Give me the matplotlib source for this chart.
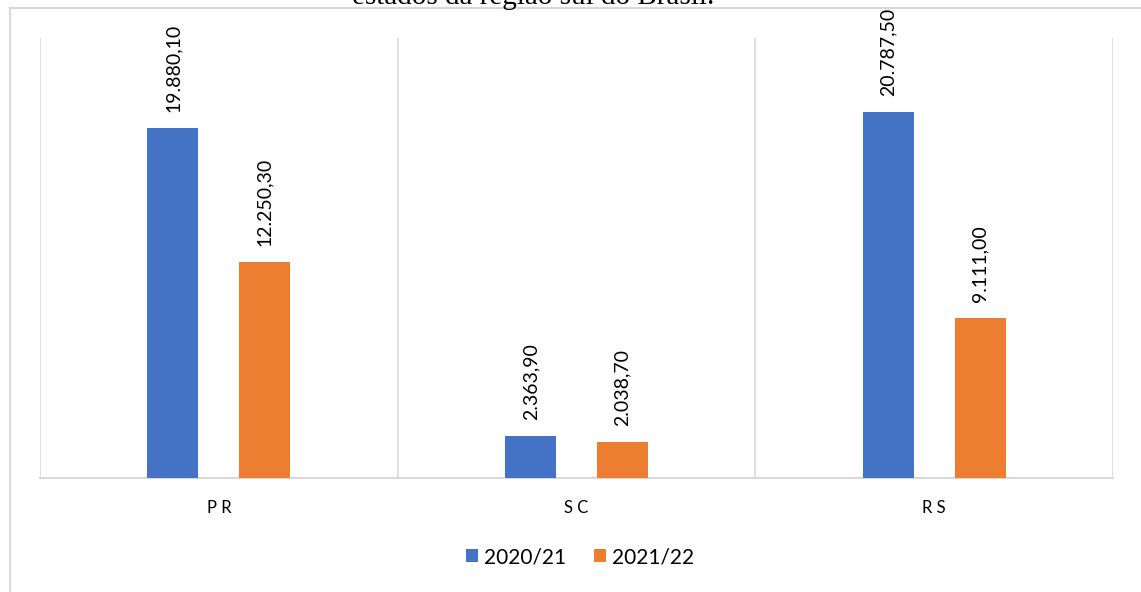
import matplotlib
matplotlib.use("Agg")
import matplotlib.pyplot as plt
from matplotlib.lines import Line2D
import numpy as np

categories = ["PR", "SC", "RS"]
series_names = ["2020/21", "2021/22"]
values_2020_21 = [19880.10, 2363.90, 20787.50]
values_2021_22 = [12250.30, 2038.70, 9111.00]
title_text = "estados da região sul do Brasil."

blue = "#4472C4"
orange = "#ED7D31"
grid_c = "#D9D9D9"
FONT = ["Lato", "DejaVu Sans"]

def fmt_br(v):
    s = f"{v:,.2f}"
    return s.replace(",", "X").replace(".", ",").replace("X", ".")

W, H = 1141, 592
fig = plt.figure(figsize=(W / 100, H / 100), dpi=100)
ax = fig.add_axes([40 / W, 1 - 478 / H, (1113 - 40) / W, (478 - 38) / H])

x = np.arange(len(categories))
bw = 0.143
b1 = ax.bar(x - 0.1285, values_2020_21, bw, color=blue, label=series_names[0], zorder=3)
b2 = ax.bar(x + 0.1285, values_2021_22, bw, color=orange, label=series_names[1], zorder=3)

for bars, vals in ((b1, values_2020_21), (b2, values_2021_22)):
    for r, v in zip(bars, vals):
        ax.annotate(fmt_br(v), (r.get_x() + r.get_width() / 2, v),
                    xytext=(0, 11.5), textcoords="offset points",
                    rotation=90, ha="center", va="bottom",
                    fontsize=14, family=FONT, color="#000000")

ax.set_xlim(-0.5, 2.5)
ax.set_ylim(0, 25000)
ax.set_yticks([])
ax.set_xticks(x)
ax.set_xticklabels([" ".join(c) for c in categories], family=FONT, fontsize=12)
ax.tick_params(axis="x", length=0, pad=16)
for s in ("top", "left", "right"):
    ax.spines[s].set_visible(False)
ax.spines["bottom"].set_color(grid_c)
ax.spines["bottom"].set_linewidth(1.5)
for b in np.arange(-0.5, 2.6, 1.0):
    ax.axvline(b, color=grid_c, lw=1.2, zorder=1)

leg = fig.legend(handles=[b1, b2], labels=series_names, loc="center",
                 bbox_to_anchor=(580 / W, 1 - 557 / H), ncol=2, frameon=False,
                 prop={"family": FONT, "size": 15}, handlelength=0.6,
                 handleheight=0.6, handletextpad=0.3, columnspacing=1.3)

# outer chart border
fig.add_artist(Line2D([10 / W, 1.0], [1 - 8 / H, 1 - 8 / H], color=grid_c, lw=1.5))
fig.add_artist(Line2D([10 / W, 10 / W], [0, 1 - 8 / H], color=grid_c, lw=1.5))

fig.text(533 / W, 1 - 4 / H, title_text, ha="center", va="baseline",
         family=["Liberation Serif"], fontsize=21, color="#000000")

fig.savefig("out.png", dpi=100, facecolor="white")
